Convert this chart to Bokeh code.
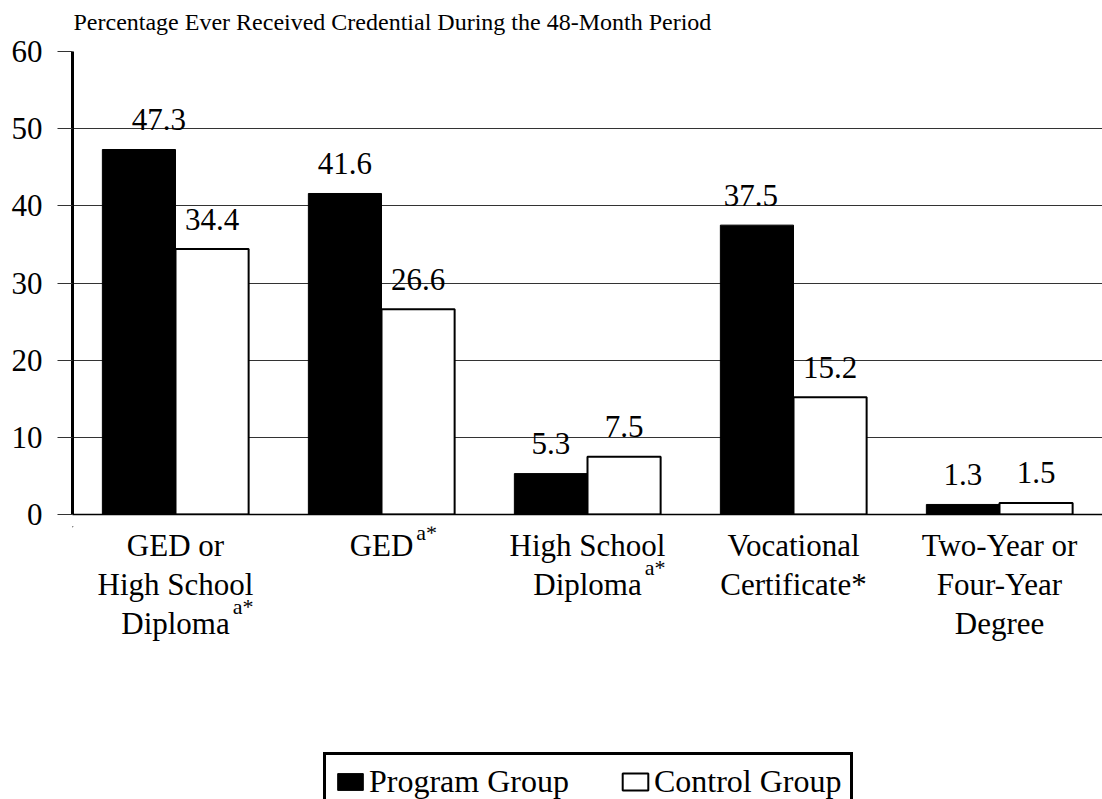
from bokeh.plotting import figure
from bokeh.layouts import column
from bokeh.models import (FactorRange, Range1d, FixedTicker, ColumnDataSource,
                          Legend, LegendItem)
from bokeh.transform import dodge
from bokeh.core.properties import value
from bokeh.embed import file_html
from bokeh.resources import INLINE

# ---------------- data ----------------
categories = ["GED or High School Diploma", "GED", "High School Diploma",
              "Vocational Certificate", "Two-Year or Four-Year Degree"]
program_group = [47.3, 41.6, 5.3, 37.5, 1.3]
control_group = [34.4, 26.6, 7.5, 15.2, 1.5]
category_lines = [["GED or", "High School", "Diploma"],
                  ["GED"],
                  ["High School", "Diploma"],
                  ["Vocational", "Certificate*"],
                  ["Two-Year or", "Four-Year", "Degree"]]
category_superscripts = ["a*", "a*", "a*", "", ""]
y_ticks = [0, 10, 20, 30, 40, 50, 60]
title_text = "Percentage Ever Received Credential During the 48-Month Period"
series_names = ["Program Group", "Control Group"]

FONT = "Liberation Serif"
W = 1102
TITLE_H = 37
MAIN_H = 526 - TITLE_H
BOT_H = 799 - 526


def strip(height, x_range, y_range):
    f = figure(width=W, height=height, x_range=x_range, y_range=y_range,
               output_backend="svg", toolbar_location=None,
               min_border_left=72, min_border_right=0, min_border_top=0,
               min_border_bottom=0)
    f.axis.visible = False
    f.grid.visible = False
    f.outline_line_color = None
    f.background_fill_color = "white"
    f.border_fill_color = "white"
    return f


# ---------------- title strip ----------------
t = strip(TITLE_H, Range1d(0, 1), Range1d(TITLE_H, 0))
t.text(x=[0], y=[21], text=[title_text], x_offset=1, text_font=value(FONT),
       text_font_size="24px", text_align="left", text_baseline="alphabetic",
       text_color="black")

source = ColumnDataSource(dict(
    cat=categories,
    program=program_group,
    control=control_group,
    program_lbl=["%.1f" % v for v in program_group],
    control_lbl=["%.1f" % v for v in control_group],
))

# ---------------- main chart ----------------
p = figure(width=W, height=MAIN_H, x_range=FactorRange(*categories),
           y_range=Range1d(0, 60), output_backend="svg", toolbar_location=None,
           min_border_left=72, min_border_right=0, min_border_top=14,
           min_border_bottom=12)
p.x_range.range_padding = 0
p.x_range.factor_padding = 0
p.outline_line_color = None
p.background_fill_color = "white"
p.border_fill_color = "white"

bw = 0.355
p.vbar(x=dodge("cat", -bw / 2, range=p.x_range), top="program", width=bw,
       source=source, fill_color="black", line_color="black", line_width=1)
p.vbar(x=dodge("cat", bw / 2, range=p.x_range), top="control", width=bw,
       source=source, fill_color="white", line_color="black", line_width=2)

# value labels
source.data["prog_dx"] = [20, 0, 0, -6, 0]
p.text(x=dodge("cat", -bw / 2, range=p.x_range), y="program", text="program_lbl",
       source=source, text_font=value(FONT), text_font_size="31px",
       text_align="center", text_baseline="alphabetic", y_offset=-30,
       x_offset="prog_dx", text_color="black")
p.text(x=dodge("cat", bw / 2, range=p.x_range), y="control", text="control_lbl",
       source=source, text_font=value(FONT), text_font_size="31px",
       text_align="center", text_baseline="alphabetic", y_offset=-30,
       text_color="black")

# axes
p.yaxis.ticker = FixedTicker(ticks=y_ticks)
p.yaxis.axis_line_width = 3
p.yaxis.axis_line_color = "black"
p.yaxis.major_tick_out = 15
p.yaxis.major_tick_in = 0
p.yaxis.major_tick_line_color = "#333333"
p.yaxis.minor_tick_line_color = None
p.yaxis.major_label_text_font = FONT
p.yaxis.major_label_text_font_size = "31px"
p.yaxis.major_label_text_color = "black"
p.yaxis.major_label_standoff = 15

p.xaxis.axis_line_color = "black"
p.xaxis.axis_line_width = 1.5
p.xaxis.major_tick_line_color = None
p.xaxis.minor_tick_line_color = None
p.xaxis.major_tick_out = 0
p.xaxis.major_label_standoff = 0
p.xaxis.major_label_text_font_size = "1px"
p.xaxis.major_label_text_alpha = 0

p.xgrid.visible = False
p.ygrid.ticker = FixedTicker(ticks=y_ticks[1:])
p.ygrid.grid_line_color = "#333333"
p.ygrid.grid_line_width = 1

# ---------------- category labels + legend strip ----------------
q = strip(BOT_H, p.x_range, Range1d(BOT_H, 0))

FIRST_BASE = 19      # px below the strip top for the first label line
LINE_H = 39
SUP_RAISE = 17
SUP_MIN = 6          # keep superscripts inside the strip


def est_width(s, size):
    w = {"D": .722, "i": .278, "p": .5, "l": .278, "o": .5, "m": .778, "a": .444,
         "G": .722, "E": .611}
    return sum(w.get(c, .5) for c in s) * size


lx, ly, lt = [], [], []
sx, sy, st, sdx = [], [], [], []
for cat, lines, sup in zip(categories, category_lines, category_superscripts):
    for i, line in enumerate(lines):
        lx.append(cat)
        ly.append(FIRST_BASE + LINE_H * i)
        lt.append(line)
    if sup:
        sx.append(cat)
        sy.append(max(FIRST_BASE + LINE_H * (len(lines) - 1) - SUP_RAISE, SUP_MIN))
        st.append(sup)
        sdx.append(est_width(lines[-1], 31) / 2 + 3)

q.text(x="x", y="y", text="t", source=ColumnDataSource(dict(x=lx, y=ly, t=lt)),
       text_font=value(FONT), text_font_size="31px", text_align="center",
       text_baseline="alphabetic", text_color="black")
q.text(x="x", y="y", text="t", x_offset="dx",
       source=ColumnDataSource(dict(x=sx, y=sy, t=st, dx=sdx)),
       text_font=value(FONT), text_font_size="22px", text_align="left",
       text_baseline="alphabetic", text_color="black")

# legend proxies: zero-height bars parked far outside the visible strip
proxy = ColumnDataSource(dict(x=[-1000], top=[-5000], bottom=[-5000]))
lg_prog = q.vbar(x="x", top="top", bottom="bottom", width=0.3, source=proxy,
                 fill_color="black", line_color="black", line_width=1)
lg_ctrl = q.vbar(x="x", top="top", bottom="bottom", width=0.3, source=proxy,
                 fill_color="white", line_color="black", line_width=2)

legend = Legend(items=[LegendItem(label=series_names[0], renderers=[lg_prog]),
                       LegendItem(label=series_names[1], renderers=[lg_ctrl])],
                orientation="horizontal", location=(251, -12))
legend.label_text_font = FONT
legend.label_text_font_size = "32px"
legend.label_text_color = "black"
legend.border_line_color = "black"
legend.border_line_alpha = 1
legend.border_line_width = 3
legend.padding = 8
legend.spacing = 50
legend.glyph_width = 32
legend.glyph_height = 21
legend.label_standoff = 3
legend.margin = 0
legend.background_fill_color = "white"
legend.background_fill_alpha = 1
q.add_layout(legend, "center")

layout = column(t, p, q, spacing=0)
open("out.html", "w").write(file_html(layout, INLINE))
